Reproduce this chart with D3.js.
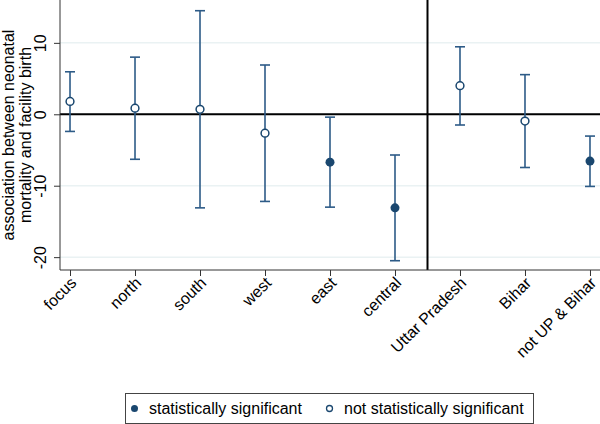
<!DOCTYPE html>
<html><head><meta charset="utf-8">
<script src="https://cdn.jsdelivr.net/npm/d3@7"></script>
<style>body{margin:0;background:#fff}svg{display:block}</style>
</head><body>
<svg id="chart" width="600" height="424"></svg>
<script>
const categories = ["focus","north","south","west","east","central","Uttar Pradesh","Bihar","not UP & Bihar"];
const estimates  = [1.8, 0.85, 0.7, -2.65, -6.7, -13.1, 4.0, -0.95, -6.55];
const lowerCI    = [-2.4, -6.3, -13.1, -12.2, -13.0, -20.5, -1.5, -7.45, -10.1];
const upperCI    = [5.95, 8.0, 14.5, 6.9, -0.4, -5.7, 9.45, 5.55, -3.05];
const sig = [false,false,false,false,true,true,false,false,true];
const yTicks = [-20, -10, 0, 10];
const legendLabels = ["statistically significant", "not statistically significant"];
const yTitle = ["association between neonatal", "mortality and facility birth"];

const navy = "#1a476f", barCol = "#2d5b87";
const svg = d3.select("#chart");
const font = "Liberation Sans, Arial, sans-serif";
const L = 60, R = 600, T = 0, B = 270;

const x = d3.scaleLinear().domain([-0.154, 8.154]).range([L, R]);
const y = d3.scaleLinear().domain([-21.8, 16.0]).range([B, T]);

// gridlines
svg.append("g").selectAll("line").data(yTicks).join("line")
  .attr("x1", L).attr("x2", R).attr("y1", d => y(d)).attr("y2", d => y(d))
  .attr("stroke", "#eaf2f3").attr("stroke-width", 1.5);

// zero line and separator
svg.append("line").attr("x1", L).attr("x2", R).attr("y1", y(0)).attr("y2", y(0))
  .attr("stroke", "#000").attr("stroke-width", 2);
svg.append("line").attr("x1", x(5.5)).attr("x2", x(5.5)).attr("y1", T).attr("y2", B)
  .attr("stroke", "#000").attr("stroke-width", 2);

// axes
const yAxis = svg.append("g").attr("transform", `translate(${L},0)`)
  .call(d3.axisLeft(y).tickValues(yTicks).tickSize(6).tickFormat(d => String(d)));
yAxis.select(".domain").attr("d", `M0,${T}V${B}`).attr("stroke", "#333");
yAxis.selectAll(".tick line").attr("stroke", "#333");
yAxis.selectAll("text").attr("font-family", font).attr("font-size", 16).attr("fill", "#000")
  .attr("transform", "rotate(-90)").attr("x", 0).attr("y", -14).attr("dy", 0)
  .attr("text-anchor", "middle");

const xAxis = svg.append("g").attr("transform", `translate(0,${B})`)
  .call(d3.axisBottom(x).tickValues(d3.range(categories.length)).tickSize(6).tickFormat(i => categories[i]));
xAxis.select(".domain").attr("d", `M${L},0H${R}`).attr("stroke", "#333");
xAxis.selectAll(".tick line").attr("stroke", "#333");
xAxis.selectAll("text").attr("font-family", font).attr("font-size", 16).attr("fill", "#000")
  .attr("text-anchor", "end").attr("transform", "rotate(-45)").attr("x", -5).attr("y", 9).attr("dy", "0.35em");

// y title
const yt = svg.append("text").attr("font-family", font).attr("font-size", 16).attr("fill", "#000")
  .attr("text-anchor", "middle").attr("transform", `translate(14,${(T+B)/2}) rotate(-90)`);
yt.selectAll("tspan").data(yTitle).join("tspan").attr("x", 0).attr("dy", (d, i) => i ? 17 : 0).text(d => d);

// error bars
const g = svg.append("g");
const cap = 5;
categories.forEach((c, i) => {
  const cx = x(i);
  g.append("line").attr("x1", cx).attr("x2", cx).attr("y1", y(lowerCI[i])).attr("y2", y(upperCI[i]))
    .attr("stroke", barCol).attr("stroke-width", 1.6);
  [lowerCI[i], upperCI[i]].forEach(v => g.append("line").attr("x1", cx - cap).attr("x2", cx + cap)
    .attr("y1", y(v)).attr("y2", y(v)).attr("stroke", barCol).attr("stroke-width", 1.6));
});
g.selectAll("circle").data(categories).join("circle")
  .attr("cx", (d, i) => x(i)).attr("cy", (d, i) => y(estimates[i])).attr("r", (d, i) => sig[i] ? 4.5 : 3.9)
  .attr("fill", (d, i) => sig[i] ? navy : "#fff").attr("stroke", navy).attr("stroke-width", (d, i) => sig[i] ? 0 : 1.5);

// legend
const lg = svg.append("g");
lg.append("rect").attr("x", 125.5).attr("y", 393.5).attr("width", 408).attr("height", 30)
  .attr("fill", "#fff").attr("stroke", "#444").attr("stroke-width", 1);
lg.append("circle").attr("cx", 134.5).attr("cy", 408.5).attr("r", 3.5).attr("fill", navy);
lg.append("circle").attr("cx", 329.5).attr("cy", 408.5).attr("r", 3).attr("fill", "#fff").attr("stroke", navy).attr("stroke-width", 1.3);
lg.append("text").attr("x", 149).attr("y", 414).attr("font-family", font).attr("font-size", 16).text(legendLabels[0]);
lg.append("text").attr("x", 344).attr("y", 414).attr("font-family", font).attr("font-size", 16).text(legendLabels[1]);
</script>
</body></html>
